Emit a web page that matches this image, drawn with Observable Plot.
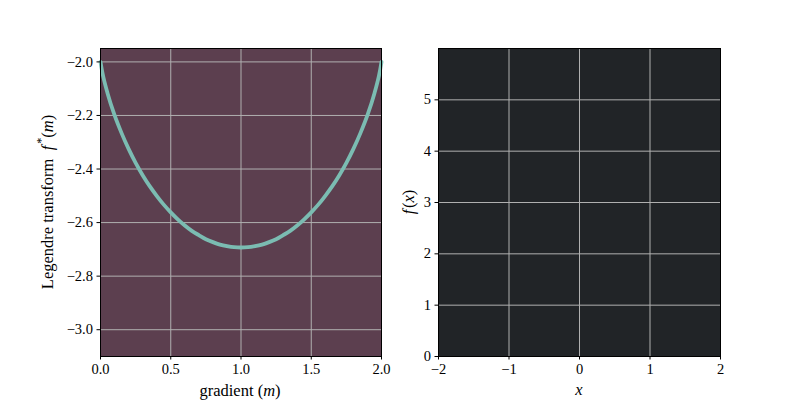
<!DOCTYPE html>
<html>
<head>
<meta charset="utf-8">
<script src="https://cdn.jsdelivr.net/npm/d3@7"></script>
<script src="https://cdn.jsdelivr.net/npm/@observablehq/plot@0.6"></script>
<style>
  body { margin: 0; background: white; }
  #wrap { position: relative; width: 800px; height: 400px; }
  #wrap svg { position: absolute; top: 0; }
</style>
</head>
<body>
<div id="wrap"></div>
<script>
// Left panel: Legendre transform curve
const gradientM = [0, 0.01, 0.02, 0.05, 0.1, 0.15, 0.2, 0.25, 0.3, 0.35, 0.4, 0.45, 0.5, 0.55, 0.6, 0.65, 0.7, 0.75, 0.8, 0.85, 0.9, 0.95, 1.0,
  1.05, 1.1, 1.15, 1.2, 1.25, 1.3, 1.35, 1.4, 1.45, 1.5, 1.55, 1.6, 1.65, 1.7, 1.75, 1.8, 1.85, 1.9, 1.95, 1.98, 1.99, 2.0];
const legendreF = [-2.000, -2.031, -2.056, -2.117, -2.199, -2.266, -2.325, -2.377, -2.423, -2.464, -2.500, -2.533, -2.562, -2.588, -2.611, -2.631, -2.647, -2.662, -2.673, -2.682, -2.688, -2.692, -2.693,
  -2.692, -2.688, -2.682, -2.673, -2.662, -2.647, -2.631, -2.611, -2.588, -2.562, -2.533, -2.500, -2.464, -2.423, -2.377, -2.325, -2.266, -2.199, -2.117, -2.056, -2.031, -2.000];
const leftXTicks = [0, 0.5, 1.0, 1.5, 2.0];
const leftYTicks = [-3.0, -2.8, -2.6, -2.4, -2.2, -2.0];
const leftXDomain = [0, 2];
const leftYDomain = [-3.1, -1.95];

// Right panel: empty axes
const rightXTicks = [-2, -1, 0, 1, 2];
const rightYTicks = [0, 1, 2, 3, 4, 5];
const rightXDomain = [-2, 2];
const rightYDomain = [0, 6];

const curve = gradientM.map((m, i) => ({m, f: legendreF[i]}));

const FONT = "Liberation Serif, Times New Roman, serif";
const GRID = "#b0b0b0";

const baseStyle = {fontFamily: FONT, fontSize: "14px", color: "black", background: "transparent", overflow: "visible"};

const left = Plot.plot({
  width: 400, height: 400,
  marginLeft: 100, marginRight: 19, marginTop: 48, marginBottom: 44,
  style: baseStyle,
  x: {domain: leftXDomain},
  y: {domain: leftYDomain},
  marks: [
    Plot.frame({fill: "#5c3f4f", stroke: "none"}),
    Plot.gridX(leftXTicks, {stroke: GRID, strokeOpacity: 1, strokeWidth: 1}),
    Plot.gridY(leftYTicks, {stroke: GRID, strokeOpacity: 1, strokeWidth: 1}),
    Plot.line(curve, {x: "m", y: "f", stroke: "#7bbcb2", strokeWidth: 3.8, curve: "monotone-x"}),
    Plot.frame({stroke: "black", strokeWidth: 1}),
    Plot.axisX(leftXTicks, {tickSize: 3.5, tickPadding: 4, tickFormat: d3.format(".1f"), label: null, fontSize: 14.5}),
    Plot.axisY(leftYTicks, {tickSize: 3.5, tickPadding: 4, tickFormat: d3.format(".1f"), label: null, fontSize: 14.5})
  ]
});

const right = Plot.plot({
  width: 400, height: 400,
  marginLeft: 38, marginRight: 80, marginTop: 48, marginBottom: 44,
  style: baseStyle,
  x: {domain: rightXDomain},
  y: {domain: rightYDomain},
  marks: [
    Plot.frame({fill: "#212427", stroke: "none"}),
    Plot.gridX(rightXTicks, {stroke: GRID, strokeOpacity: 1, strokeWidth: 1}),
    Plot.gridY(rightYTicks.filter(d => d > 0), {stroke: GRID, strokeOpacity: 1, strokeWidth: 1}),
    Plot.frame({stroke: "black", strokeWidth: 1}),
    Plot.axisX(rightXTicks, {tickSize: 3.5, tickPadding: 4, tickFormat: d3.format("d"), label: null, fontSize: 14.5}),
    Plot.axisY(rightYTicks, {tickSize: 3.5, tickPadding: 4, tickFormat: d3.format("d"), label: null, fontSize: 14.5})
  ]
});

const wrap = document.getElementById("wrap");
left.style.left = "0px";
right.style.left = "400px";
wrap.appendChild(left);
wrap.appendChild(right);

// force serif font on all tick labels
d3.selectAll("#wrap svg g, #wrap svg text").attr("font-family", FONT).style("font-family", FONT);

function addLabel(svg, x, y, rotate, parts) {
  const t = d3.select(svg).append("text")
    .attr("transform", `translate(${x},${y})` + (rotate ? " rotate(-90)" : ""))
    .attr("text-anchor", "middle")
    .attr("dominant-baseline", "central")
    .style("font-family", FONT)
    .attr("font-size", 16.5)
    .attr("fill", "black");
  for (const p of parts) {
    const s = t.append("tspan").text(p.t);
    if (p.i) s.attr("font-style", "italic");
    if (p.dx) s.attr("dx", p.dx);
    if (p.dy) s.attr("dy", p.dy);
    if (p.fs) s.attr("font-size", p.fs);
  }
}

addLabel(left, 47, 202, true, [
  {t: "Legendre transform\u2002"}, {t: "f", i: true}, {t: "*", dx: 2, dy: -6, fs: 12}, {t: "(", dy: 6}, {t: "m", i: true}, {t: ")"}
]);
addLabel(left, 240, 390, false, [
  {t: "gradient ("}, {t: "m", i: true}, {t: ")"}
]);
addLabel(right, 8, 202, true, [
  {t: "f", i: true}, {t: "(", dx: 1.5}, {t: "x", i: true}, {t: ")"}
]);
addLabel(right, 179, 389, false, [
  {t: "x", i: true}
]);
</script>
</body>
</html>
